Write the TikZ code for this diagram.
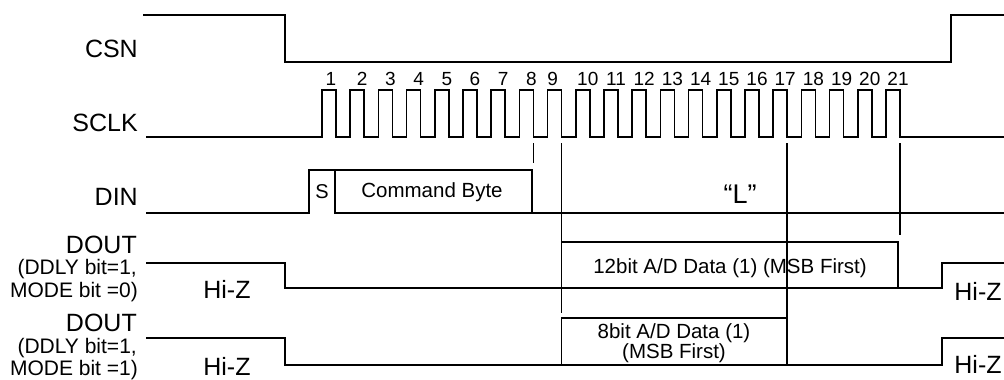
\documentclass[tikz,border=0pt]{standalone}
\usepackage{fontspec}
\setmainfont{Liberation Sans}
\usetikzlibrary{calc}

\tikzset{
  sig/.style={line width=1.6pt},
  lbl/.style={anchor=east, inner sep=0pt, font=\fontsize{25}{28}\selectfont},
  sub/.style={anchor=east, inner sep=0pt, font=\fontsize{21}{22}\selectfont},
  num/.style={inner sep=0pt, font=\fontsize{19}{20}\selectfont},
  txt/.style={inner sep=0pt, font=\fontsize{20.5}{19}\selectfont, align=center},
}

\begin{document}
\begin{tikzpicture}[x=1pt, y=-1pt]
\useasboundingbox (0,0) rectangle (1004,380);
% CSN
\draw[sig] (143,15) -- (285,15) -- (285,62) -- (951,62) -- (951,15) -- (1004,15);
\node[lbl] (csn) at (138,49) {CSN};
% SCLK, 21 pulses
\draw[sig] (146,137) foreach \n in {1,...,21} { -- ({322+28.2*(\n-1)},137) -- ++(0,-47) -- ++(14,0) -- ++(0,47) coordinate (f\n) } -- (1004,137);
\node[lbl] (sclk) at (138,123) {SCLK};
\foreach \n [evaluate=\n as \dx using {\n==1 ? 9 : (\n==9 ? 5 : 12)}] in {1,...,21}
  \node[num] (n\n) at ({322+28.2*(\n-1)+\dx},79) {\n};
% DIN
\draw[sig] (146,213) -- (309,213) -- (309,170) -- (532,170) -- (532,213);
\draw[sig] (335,170) -- (335,213) -- (1004,213);
\node[lbl] (din) at (138,197) {DIN};
\node[inner sep=0pt, font=\fontsize{20}{22}\selectfont] (s) at (322,192) {S};
\node[txt] (cmd) at (432,192) {Command Byte};
\node[inner sep=0pt, font=\fontsize{27}{30}\selectfont] (l) at (740,194) {“L”};
% DOUT, MODE=0
\draw[sig] (146,263) -- (285,263) -- (285,288) -- (942,288) -- (942,263) -- (1004,263);
\draw[line width=1.3pt] (f9 |- 0,242) rectangle (898,288);
\node[txt] (d12) at (730,268) {12bit A/D Data (1) (MSB First)};
\node[lbl] (dout1) at (137,245) {DOUT};
\node[sub] (ddly1) at (137,269) {(DDLY bit=1,};
\node[sub] (mode1) at (138,292) {MODE bit =0)};
\node[lbl, anchor=center] (hz1) at (227,289) {Hi-Z};
\node[lbl, anchor=center] (hz2) at (978,291) {Hi-Z};
% DOUT, MODE=1
\draw[sig] (146,338) -- (285,338) -- (285,365) -- (942,365) -- (942,338) -- (1004,338);
\draw[line width=1.3pt] (f9 |- 0,318) rectangle (f17 |- 0,365);
\node[txt] (d8) at (674,343) {8bit A/D Data (1)\\(MSB First)};
\node[lbl] (dout2) at (137,323) {DOUT};
\node[sub] (ddly2) at (137,348) {(DDLY bit=1,};
\node[sub] (mode2) at (138,370) {MODE bit =1)};
\node[lbl, anchor=center] (hz3) at (227,366) {Hi-Z};
\node[lbl, anchor=center] (hz4) at (978,364) {Hi-Z};
% marker lines
\draw[sig] ($(f8)+(0,6)$) -- ($(f8)+(0,26)$);
\draw[sig] ($(f9)+(0,6)$) -- (f9 |- 0,313);
\draw[sig] ($(f17)+(0,6)$) -- (f17 |- 0,365);
\draw[sig] ($(f21)+(0,6)$) -- (f21 |- 0,235);
\end{tikzpicture}
\end{document}
